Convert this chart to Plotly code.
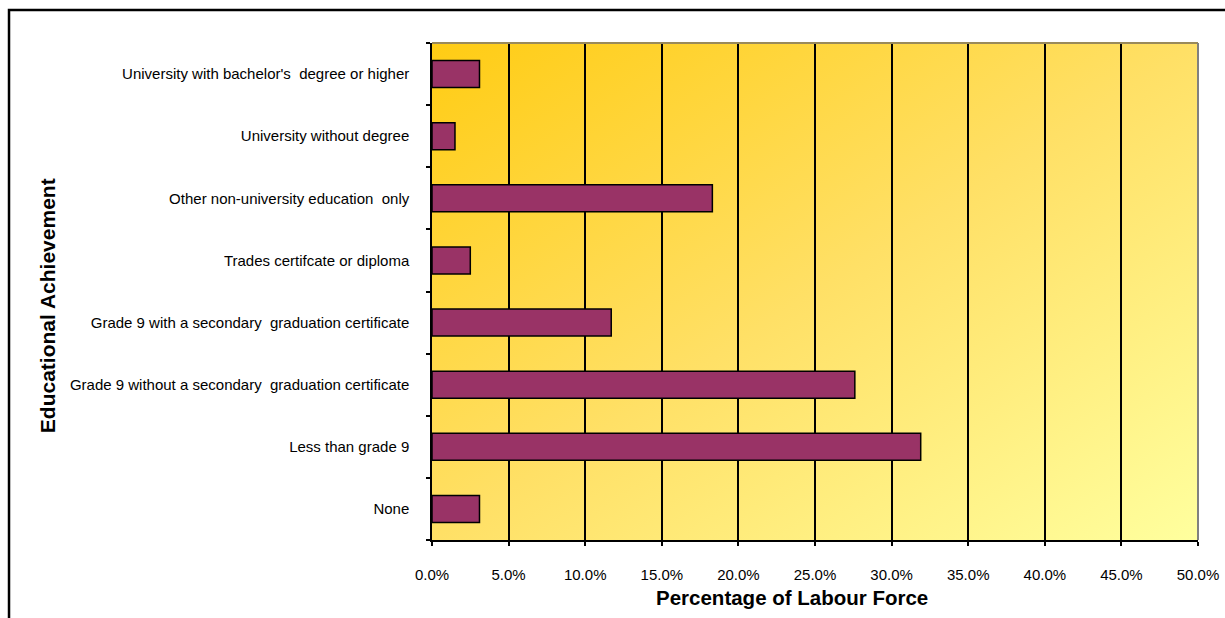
import base64
import plotly.graph_objects as go

categories = [
    "None",
    "Less than grade 9",
    "Grade 9 without a secondary  graduation certificate",
    "Grade 9 with a secondary  graduation certificate",
    "Trades certifcate or diploma",
    "Other non-university education  only",
    "University without degree",
    "University with bachelor's  degree or higher",
]
values = [3.1, 31.9, 27.6, 11.7, 2.5, 18.3, 1.5, 3.1]
x_ticks = [0, 5, 10, 15, 20, 25, 30, 35, 40, 45, 50]

FONT = "Liberation Sans, Arial, sans-serif"

svg = (
    '<svg xmlns="http://www.w3.org/2000/svg" width="766" height="497" '
    'viewBox="0 0 766 497" preserveAspectRatio="none">'
    '<defs><linearGradient id="g" x1="0" y1="0" x2="1" y2="1">'
    '<stop offset="0" stop-color="#FFCC14"/>'
    '<stop offset="0.5" stop-color="#FFE066"/>'
    '<stop offset="1" stop-color="#FFFF9E"/>'
    '</linearGradient></defs>'
    '<rect width="766" height="497" fill="url(#g)"/></svg>'
)
svg_uri = "data:image/svg+xml;base64," + base64.b64encode(svg.encode()).decode()

fig = go.Figure(
    go.Bar(
        y=categories,
        x=values,
        orientation="h",
        marker=dict(color="#993366", line=dict(color="#000000", width=1.5)),
        hoverinfo="x+y",
    )
)

fig.update_layout(
    width=1225,
    height=618,
    margin=dict(l=432, r=27, t=43, b=78, autoexpand=False),
    paper_bgcolor="white",
    plot_bgcolor="rgba(0,0,0,0)",
    bargap=0.565,
    showlegend=False,
    font=dict(family=FONT, size=15, color="black"),
    images=[
        dict(
            source=svg_uri, xref="paper", yref="paper", x=0, y=1,
            sizex=1, sizey=1, sizing="stretch", layer="below",
            xanchor="left", yanchor="top",
        )
    ],
    xaxis=dict(
        range=[0, 50],
        tickvals=x_ticks,
        ticktext=[f"{v:.1f}%" for v in x_ticks],
        showgrid=True,
        gridcolor="black",
        gridwidth=1.5,
        zeroline=False,
        showline=True,
        linecolor="black",
        linewidth=1.5,
        ticks="outside",
        ticklen=4,
        tickcolor="black",
        tickwidth=1.5,
        ticklabelstandoff=16,
        tickfont=dict(size=15, family=FONT),
        fixedrange=True,
    ),
    yaxis=dict(
        type="category",
        showgrid=False,
        showline=True,
        linecolor="black",
        linewidth=1.5,
        ticks="outside",
        tickson="boundaries",
        ticklen=4,
        tickcolor="black",
        tickwidth=1.5,
        ticklabelstandoff=18,
        tickfont=dict(size=15, family=FONT),
        fixedrange=True,
    ),
    shapes=[
        dict(type="line", xref="paper", yref="paper", x0=0, x1=1, y0=1, y1=1,
             line=dict(color="#9A8A5A", width=2)),
        dict(type="line", xref="paper", yref="paper", x0=1, x1=1, y0=0, y1=1,
             line=dict(color="#808080", width=2)),
        dict(type="rect", xref="paper", yref="paper",
             x0=-0.5522, x1=1.1, y0=-0.2, y1=1.0664,
             line=dict(color="black", width=2.5), layer="above"),
    ],
    annotations=[
        dict(text="<b>Percentage of Labour Force</b>", xref="paper", yref="paper",
             x=0.47, y=-0.1147, xanchor="center", yanchor="middle", showarrow=False,
             font=dict(size=20.5, family=FONT)),
        dict(text="<b>Educational Achievement</b>", xref="paper", yref="paper",
             x=-0.501, y=0.471, xanchor="center", yanchor="middle", showarrow=False,
             textangle=-90, font=dict(size=21, family=FONT)),
    ],
)

fig.write_html("out.html")
